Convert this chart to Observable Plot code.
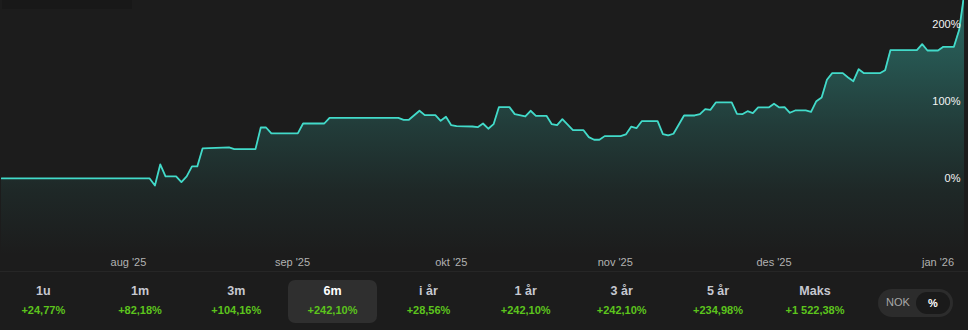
<!DOCTYPE html>
<html>
<head>
<meta charset="utf-8">
<script src="https://cdn.jsdelivr.net/npm/d3@7"></script>
<script src="https://cdn.jsdelivr.net/npm/@observablehq/plot@0.6"></script>
<style>
  html, body { margin: 0; padding: 0; background: #1c1c1c; }
  #wrap { position: relative; width: 968px; height: 330px; background: #1c1c1c; overflow: hidden;
          font-family: "Liberation Sans", Arial, sans-serif; }
  #topbox { position: absolute; left: 2px; top: 0; width: 130px; height: 9px; background: #181818; }
  #chart { position: absolute; left: 0; top: 0; }
  #sep { position: absolute; left: 0; top: 271px; width: 968px; height: 1px; background: #262626; }
  .btn { position: absolute; top: 280px; width: 89px; height: 43px; border-radius: 7px; text-align: center; }
  .btn.sel { background: #2f2f2f; }
  .btn .p { position: absolute; left: 0; right: 0; top: 4px; font-size: 12.5px; font-weight: bold; color: #c6c8d0; }
  .btn.sel .p { color: #ffffff; }
  .btn .v { position: absolute; left: 0; right: 0; top: 24px; font-size: 11px; font-weight: bold; color: #5cc41c; }
  #toggle { position: absolute; left: 878px; top: 289px; width: 75px; height: 28px; border-radius: 14px; background: #2c2c2c; }
  #toggle .nok { position: absolute; left: 8px; top: 7px; font-size: 11px; color: #a8a8a8; }
  #toggle .pct { position: absolute; left: 38px; top: 3px; width: 34px; height: 22px; border-radius: 11px; background: #1a1a1a;
                 color: #fff; font-size: 11px; font-weight: bold; text-align: center; line-height: 22px; }
</style>
</head>
<body>
<div id="wrap">
  <div id="chart"></div>
  <div id="topbox"></div>
  <div id="sep"></div>
  <div id="buttons"></div>
  <div id="toggle"><span class="nok">NOK</span><div class="pct">%</div></div>
</div>
<script>
const dates = [
  "2025-07-08","2025-08-05","2025-08-06","2025-08-07","2025-08-08","2025-08-10","2025-08-11","2025-08-12",
  "2025-08-13","2025-08-14","2025-08-15","2025-08-20","2025-08-21","2025-08-25","2025-08-26","2025-08-27",
  "2025-08-28","2025-09-02","2025-09-03","2025-09-07","2025-09-08","2025-09-21","2025-09-22","2025-09-23",
  "2025-09-25","2025-09-26","2025-09-28","2025-09-29","2025-09-30","2025-10-01","2025-10-02","2025-10-05",
  "2025-10-06","2025-10-07","2025-10-08","2025-10-09","2025-10-10","2025-10-12","2025-10-13","2025-10-15",
  "2025-10-16","2025-10-17","2025-10-19","2025-10-20","2025-10-21","2025-10-22","2025-10-24","2025-10-26",
  "2025-10-27","2025-10-28","2025-10-29","2025-10-30","2025-11-02","2025-11-03","2025-11-04","2025-11-05",
  "2025-11-06","2025-11-09","2025-11-10","2025-11-11","2025-11-12","2025-11-14","2025-11-16","2025-11-17",
  "2025-11-18","2025-11-19","2025-11-20","2025-11-23","2025-11-24","2025-11-25","2025-11-26","2025-11-27",
  "2025-11-28","2025-11-30","2025-12-01","2025-12-02","2025-12-03","2025-12-04","2025-12-05","2025-12-07",
  "2025-12-08","2025-12-09","2025-12-10","2025-12-11","2025-12-12","2025-12-14","2025-12-15","2025-12-16",
  "2025-12-17","2025-12-18","2025-12-21","2025-12-22","2025-12-23","2025-12-28","2025-12-29","2025-12-30",
  "2026-01-01","2026-01-02","2026-01-04","2026-01-05","2026-01-06"
];
const values = [
  0, 0, -9.1, 18.2, 2.6, 2.6, -4.8, 2.6,
  15.6, 15.6, 38.9, 40.2, 38.0, 38.0, 66.1, 66.1,
  58.4, 58.4, 71.3, 71.3, 78.7, 78.7, 76.1, 76.1,
  87.8, 82.1, 82.1, 74.8, 80.0, 69.1, 67.8, 67.4,
  66.5, 71.3, 64.5, 70.4, 92.5, 92.5, 83.4, 80.4,
  87.8, 81.3, 81.3, 70.4, 69.1, 76.9, 62.6, 62.6,
  53.6, 50.2, 50.2, 54.9, 54.9, 57.1, 67.1, 65.2,
  74.3, 74.3, 57.5, 55.8, 58.0, 81.7, 81.7, 83.4,
  89.9, 89.1, 98.6, 98.6, 83.9, 83.4, 87.3, 84.7,
  92.1, 92.1, 96.9, 92.1, 92.5, 85.2, 88.2, 88.2,
  86.5, 100.3, 105.1, 128.0, 136.6, 136.6, 131.0, 126.2,
  141.8, 136.6, 136.6, 140.5, 166.4, 166.4, 174.2, 166.0,
  166.0, 170.8, 170.8, 192.9, 242.1
];
const monthTicks = ["2025-08-01","2025-09-01","2025-10-01","2025-11-01","2025-12-01","2026-01-01"];
const monthLabels = ["aug '25","sep '25","okt '25","nov '25","des '25","jan '26"];
const yTicks = [0, 100, 200];
const periods = ["1u","1m","3m","6m","i år","1 år","3 år","5 år","Maks"];
const returns = ["+24,77%","+82,18%","+104,16%","+242,10%","+28,56%","+242,10%","+242,10%","+234,98%","+1 522,38%"];
const selectedPeriod = "6m";

const data = dates.map((d, i) => ({date: new Date(d + "T00:00:00Z"), v: values[i]}));
const tickDates = monthTicks.map(d => new Date(d + "T00:00:00Z"));
const labelOf = new Map(tickDates.map((d, i) => [+d, monthLabels[i]]));

const chart = Plot.plot({
  width: 968,
  height: 271,
  marginTop: 0,
  marginBottom: 16,
  marginLeft: 1,
  marginRight: 4,
  style: {background: "transparent", fontFamily: "Liberation Sans, Arial, sans-serif", overflow: "visible"},
  x: {type: "utc", domain: [new Date("2025-07-08T00:00:00Z"), new Date("2026-01-06T00:00:00Z")]},
  y: {domain: [-100, 230.9]},
  marks: [
    Plot.areaY(data, {x: "date", y1: -100, y2: "v", fill: "url(#fillGrad)", clip: true}),
    Plot.line(data, {x: "date", y: "v", stroke: "#42dac9", strokeWidth: 1.8, clip: true}),
    Plot.axisX({ticks: tickDates, tickFormat: d => labelOf.get(+d), tickSize: 0, tickPadding: 3,
                fontSize: 11, fill: "#b2b2b2", label: null}),
    Plot.axisY({anchor: "right", ticks: yTicks, tickFormat: d => d + "%", tickSize: 0, tickPadding: -4,
                textAnchor: "end", fontSize: 11, fill: "#f4f4f4", label: null})
  ]
});

// gradient definition for the area
const ns = "http://www.w3.org/2000/svg";
const defs = document.createElementNS(ns, "defs");
const grad = document.createElementNS(ns, "linearGradient");
grad.setAttribute("id", "fillGrad");
grad.setAttribute("gradientUnits", "userSpaceOnUse");
grad.setAttribute("x1", "0"); grad.setAttribute("y1", "0");
grad.setAttribute("x2", "0"); grad.setAttribute("y2", "255");
[[0, 0.38], [0.25, 0.28], [0.5, 0.16], [0.75, 0.06], [1, 0]].forEach(([o, a]) => {
  const s = document.createElementNS(ns, "stop");
  s.setAttribute("offset", o);
  s.setAttribute("stop-color", "#40e0d0");
  s.setAttribute("stop-opacity", a);
  grad.appendChild(s);
});
defs.appendChild(grad);
chart.insertBefore(defs, chart.firstChild);
document.getElementById("chart").appendChild(chart);

// period buttons
const centers = [43.3, 140, 236.3, 332.5, 428.5, 525.7, 621.7, 718, 815];
const btns = document.getElementById("buttons");
periods.forEach((p, i) => {
  const b = document.createElement("div");
  b.className = "btn" + (p === selectedPeriod ? " sel" : "");
  b.style.left = (centers[i] - 44.5) + "px";
  const a = document.createElement("div"); a.className = "p"; a.textContent = p;
  const v = document.createElement("div"); v.className = "v"; v.textContent = returns[i];
  b.appendChild(a); b.appendChild(v);
  btns.appendChild(b);
});
</script>
</body>
</html>
